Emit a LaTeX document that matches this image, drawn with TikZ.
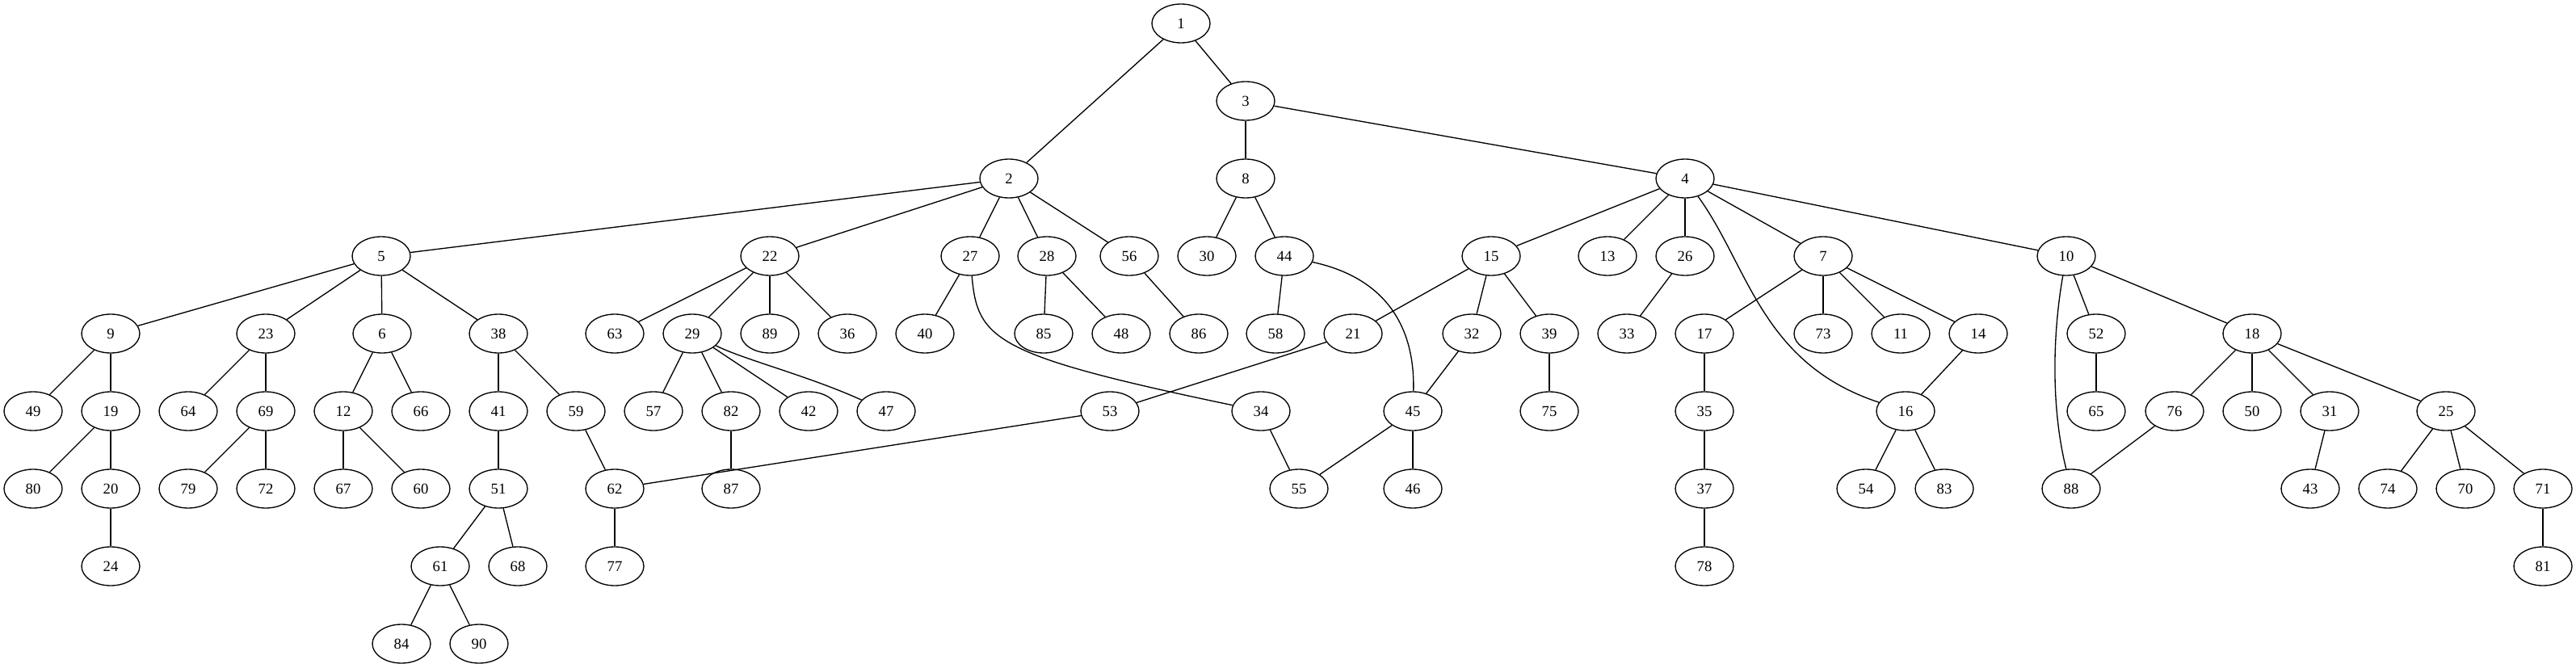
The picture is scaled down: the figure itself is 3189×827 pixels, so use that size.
\documentclass[tikz,border=0pt]{standalone}
\usepackage{fontspec}
\setmainfont{Liberation Serif}
\usetikzlibrary{shapes.geometric}
\tikzset{
    %Define style for tree nodes
    treenode/.style={
             ellipse,
             draw=black, line width=1pt,
             minimum width=54pt, minimum height=36pt,
             inner sep=0pt,
             font=\fontsize{14}{16}\selectfont},
    % Define edge style
    treeedge/.style={
            line width=1pt}
}
\begin{document}
\begin{tikzpicture}[x=0.75pt, y=-0.75pt]
 \useasboundingbox (0,0) rectangle (3189,827);
 % nodes, rank by rank
 \foreach \n/\x/\y in {1/1462/29, 3/1542/125,
   2/1249/221, 8/1542/221, 4/2086/221,
   5/472/317, 22/953/317, 27/1201/317, 28/1296/317, 56/1398/317, 30/1494/317,
   44/1590/317, 15/1846/317, 13/1990/317, 26/2086/317, 7/2257/317, 10/2558/317,
   9/137/413, 23/329/413, 6/473/413, 38/617/413, 63/761/413, 29/857/413,
   89/953/413, 36/1049/413, 40/1145/413, 85/1292/413, 48/1388/413, 86/1484/413,
   58/1579/413, 21/1675/413, 32/1822/413, 39/1918/413, 33/2014/413, 17/2110/413,
   73/2257/413, 11/2353/413, 14/2449/413, 52/2595/413, 18/2788/413,
   49/41/509, 19/137/509, 64/233/509, 69/329/509, 12/425/509, 66/521/509,
   41/617/509, 59/713/509, 57/809/509, 82/905/509, 42/1001/509, 47/1097/509,
   53/1374/509, 34/1561/509, 45/1749/509, 75/1918/509, 35/2110/509, 16/2359/509,
   65/2595/509, 76/2692/509, 50/2788/509, 31/2884/509, 25/3028/509,
   80/41/605, 20/137/605, 79/233/605, 72/329/605, 67/425/605, 60/521/605,
   51/617/605, 62/761/605, 87/905/605, 55/1608/605, 46/1749/605, 37/2110/605,
   54/2310/605, 83/2407/605, 88/2564/605, 43/2860/605, 74/2956/605, 70/3052/605,
   71/3148/605,
   24/137/701, 61/545/701, 68/641/701, 77/761/701, 78/2110/701, 81/3148/701,
   84/497/797, 90/593/797}
   \node[treenode] (n\n) at (\x,\y) {\n};
 % straight edges
 \path (n1) edge[treeedge] (n2)  (n1) edge[treeedge] (n3)
       (n3) edge[treeedge] (n8)  (n3) edge[treeedge] (n4)
       (n2) edge[treeedge] (n5)  (n2) edge[treeedge] (n22)
       (n2) edge[treeedge] (n27) (n2) edge[treeedge] (n28)
       (n2) edge[treeedge] (n56)
       (n8) edge[treeedge] (n30) (n8) edge[treeedge] (n44)
       (n4) edge[treeedge] (n15) (n4) edge[treeedge] (n13)
       (n4) edge[treeedge] (n26) (n4) edge[treeedge] (n7)
       (n4) edge[treeedge] (n10)
       (n5) edge[treeedge] (n9)  (n5) edge[treeedge] (n23)
       (n5) edge[treeedge] (n6)  (n5) edge[treeedge] (n38)
       (n22) edge[treeedge] (n63) (n22) edge[treeedge] (n29)
       (n22) edge[treeedge] (n89) (n22) edge[treeedge] (n36)
       (n27) edge[treeedge] (n40)
       (n28) edge[treeedge] (n85) (n28) edge[treeedge] (n48)
       (n56) edge[treeedge] (n86)
       (n44) edge[treeedge] (n58)
       (n15) edge[treeedge] (n21) (n15) edge[treeedge] (n32)
       (n15) edge[treeedge] (n39)
       (n26) edge[treeedge] (n33)
       (n7) edge[treeedge] (n17) (n7) edge[treeedge] (n73)
       (n7) edge[treeedge] (n11) (n7) edge[treeedge] (n14)
       (n10) edge[treeedge] (n52) (n10) edge[treeedge] (n18)
       (n9) edge[treeedge] (n49) (n9) edge[treeedge] (n19)
       (n23) edge[treeedge] (n64) (n23) edge[treeedge] (n69)
       (n6) edge[treeedge] (n12) (n6) edge[treeedge] (n66)
       (n38) edge[treeedge] (n41) (n38) edge[treeedge] (n59)
       (n29) edge[treeedge] (n57) (n29) edge[treeedge] (n82)
       (n29) edge[treeedge] (n42)
       (n21) edge[treeedge] (n53)
       (n32) edge[treeedge] (n45)
       (n39) edge[treeedge] (n75)
       (n17) edge[treeedge] (n35)
       (n14) edge[treeedge] (n16)
       (n52) edge[treeedge] (n65)
       (n18) edge[treeedge] (n76) (n18) edge[treeedge] (n50)
       (n18) edge[treeedge] (n31) (n18) edge[treeedge] (n25)
       (n19) edge[treeedge] (n80) (n19) edge[treeedge] (n20)
       (n69) edge[treeedge] (n79) (n69) edge[treeedge] (n72)
       (n12) edge[treeedge] (n67) (n12) edge[treeedge] (n60)
       (n41) edge[treeedge] (n51)
       (n59) edge[treeedge] (n62)
       (n82) edge[treeedge] (n87)
       (n53) edge[treeedge] (n62)
       (n34) edge[treeedge] (n55)
       (n45) edge[treeedge] (n55) (n45) edge[treeedge] (n46)
       (n35) edge[treeedge] (n37)
       (n16) edge[treeedge] (n54) (n16) edge[treeedge] (n83)
       (n76) edge[treeedge] (n88)
       (n31) edge[treeedge] (n43)
       (n25) edge[treeedge] (n74) (n25) edge[treeedge] (n70)
       (n25) edge[treeedge] (n71)
       (n20) edge[treeedge] (n24)
       (n51) edge[treeedge] (n61) (n51) edge[treeedge] (n68)
       (n62) edge[treeedge] (n77)
       (n37) edge[treeedge] (n78)
       (n71) edge[treeedge] (n81)
       (n61) edge[treeedge] (n84) (n61) edge[treeedge] (n90);
 % curved edges
 \draw[treeedge] (n27) .. controls (1210,420) and (1230,440) .. (n34);
 \draw[treeedge] (n44) .. controls (1720,345) and (1752,410) .. (n45);
 \draw[treeedge] (n4) .. controls (2165,330) and (2180,450) .. (n16);
 \draw[treeedge] (n10) .. controls (2540,420) and (2540,510) .. (n88);
 \draw[treeedge] (n29) .. controls (920,445) and (1000,465) .. (n47);
\end{tikzpicture}
\end{document}
